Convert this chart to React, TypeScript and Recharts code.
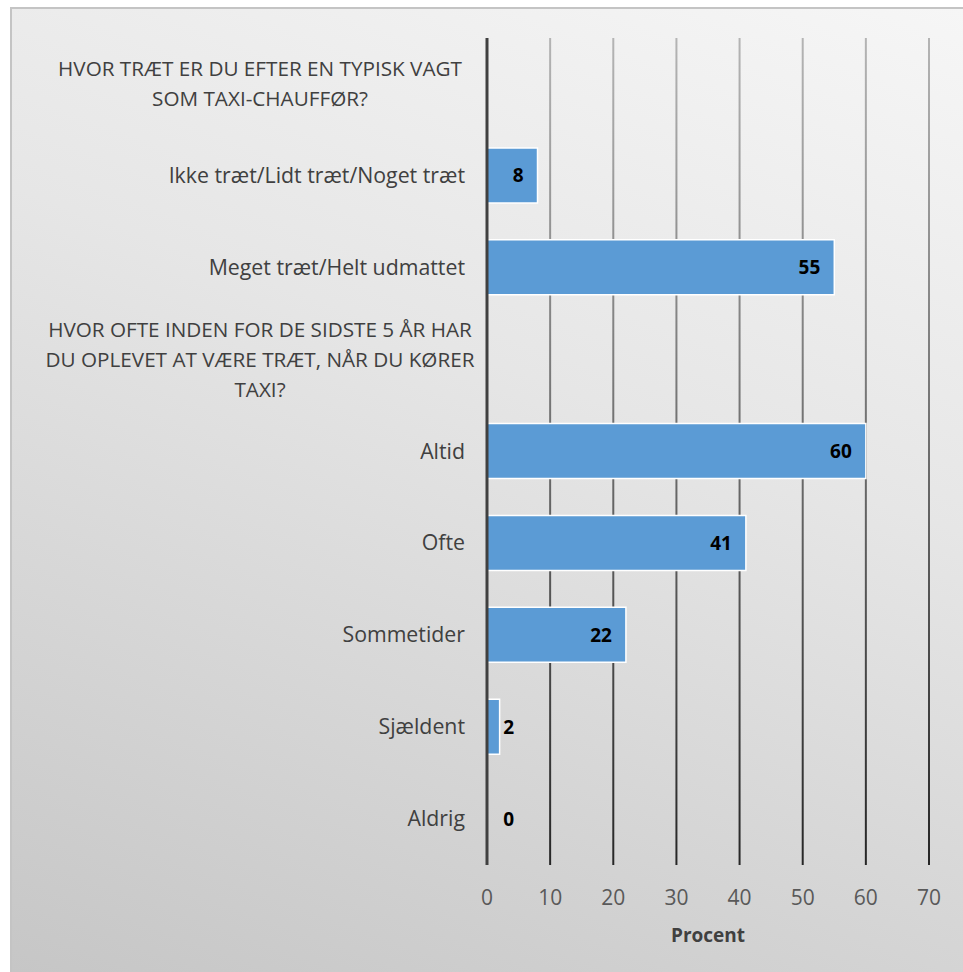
import React from "react";
import { BarChart, Bar, XAxis, YAxis, CartesianGrid, LabelList, Rectangle } from "recharts";

const categories = [
  "HVOR TRÆT ER DU EFTER EN TYPISK VAGT\nSOM TAXI-CHAUFFØR?",
  "Ikke træt/Lidt træt/Noget træt",
  "Meget træt/Helt udmattet",
  "HVOR OFTE INDEN FOR DE SIDSTE 5 ÅR HAR\nDU OPLEVET AT VÆRE TRÆT, NÅR DU KØRER\nTAXI?",
  "Altid",
  "Ofte",
  "Sommetider",
  "Sjældent",
  "Aldrig",
];
const values: (number | null)[] = [null, 8, 55, null, 60, 41, 22, 2, 0];
const xTicks = [0, 10, 20, 30, 40, 50, 60, 70];

const data = categories.map((c, i) => ({ name: c, value: values[i] }));

const FONT = "'Open Sans', sans-serif";

function CatTick(props: any) {
  const { x, y, payload } = props;
  const lines = String(payload.value).split("\n");
  if (lines.length === 1) {
    return (
      <text x={x - 22} y={y} dy={7} textAnchor="end" fill="#404040" fontSize={21.3} fontFamily={FONT}>
        {lines[0]}
      </text>
    );
  }
  const lh = 30;
  const start = y - ((lines.length - 1) * lh) / 2;
  return (
    <text textAnchor="middle" fill="#404040" fontSize={20.7} fontFamily={FONT}>
      {lines.map((l, i) => (
        <tspan key={i} x={x - 227} y={start + i * lh} dy={7}>
          {l}
        </tspan>
      ))}
    </text>
  );
}

// skip drawing empty / zero bars, but keep their labels
function BarShape(props: any) {
  const v = props.payload?.value;
  if (v === null || v === undefined || v === 0) return null;
  return <Rectangle {...props} />;
}

function ValueLabel(props: any) {
  const { x, y, width, height, value } = props;
  if (value === null || value === undefined) return null;
  const txt = String(value);
  const tw = txt.length * 11;
  const right = Math.max(x + width - 14, x + 16 + tw);
  return (
    <text
      x={right}
      y={y + height / 2}
      dy={7}
      textAnchor="end"
      fill="#000"
      fontSize={19}
      fontWeight="bold"
      fontFamily={FONT}
    >
      {txt}
    </text>
  );
}

export default function App() {
  return (
    <div style={{ position: "absolute", left: 10, top: 7, width: 953, height: 965 }}>
      <style>{"body{margin:0;overflow:hidden}"}</style>
      <div
        style={{
          position: "absolute",
          inset: 0,
          borderTop: "2px solid #c4c4c4",
          borderLeft: "2px solid #c4c4c4",
          background: "linear-gradient(200deg, #f6f6f6 0%, #e6e6e6 40%, #c6c6c6 100%)",
        }}
      />
      <div style={{ position: "absolute", left: 0, top: 0 }}>
        <BarChart
          width={953}
          height={965}
          data={data}
          layout="vertical"
          margin={{ top: 31, right: 34, left: 0, bottom: 0 }}
          barSize={55}
        >
          <defs>
            <linearGradient id="gridGrad" gradientUnits="userSpaceOnUse" x1="0" y1="31" x2="0" y2="858">
              <stop offset="0%" stopColor="#b4b4b4" />
              <stop offset="100%" stopColor="#262626" />
            </linearGradient>
          </defs>
          <CartesianGrid horizontal={false} stroke="url(#gridGrad)" strokeWidth={2} />
          <XAxis
            type="number"
            domain={[0, 70]}
            ticks={xTicks}
            tickLine={false}
            axisLine={false}
            height={107}
            tickMargin={19}
            tick={{ fill: "#595959", fontSize: 21, fontFamily: FONT }}
            label={{
              value: "Procent",
              position: "insideTop",
              offset: 64,
              fill: "#404040",
              fontSize: 19,
              fontWeight: "bold",
              fontFamily: FONT,
            }}
          />
          <YAxis
            type="category"
            dataKey="name"
            width={477}
            tickLine={false}
            tickSize={0}
            tickMargin={0}
            axisLine={{ stroke: "#404040", strokeWidth: 3 }}
            tick={<CatTick />}
            interval={0}
          />
          <Bar
            dataKey="value"
            fill="#5b9bd5"
            stroke="#ffffff"
            strokeWidth={1.5}
            minPointSize={1}
            shape={<BarShape />}
            isAnimationActive={false}
          >
            <LabelList dataKey="value" content={<ValueLabel />} />
          </Bar>
        </BarChart>
      </div>
    </div>
  );
}
